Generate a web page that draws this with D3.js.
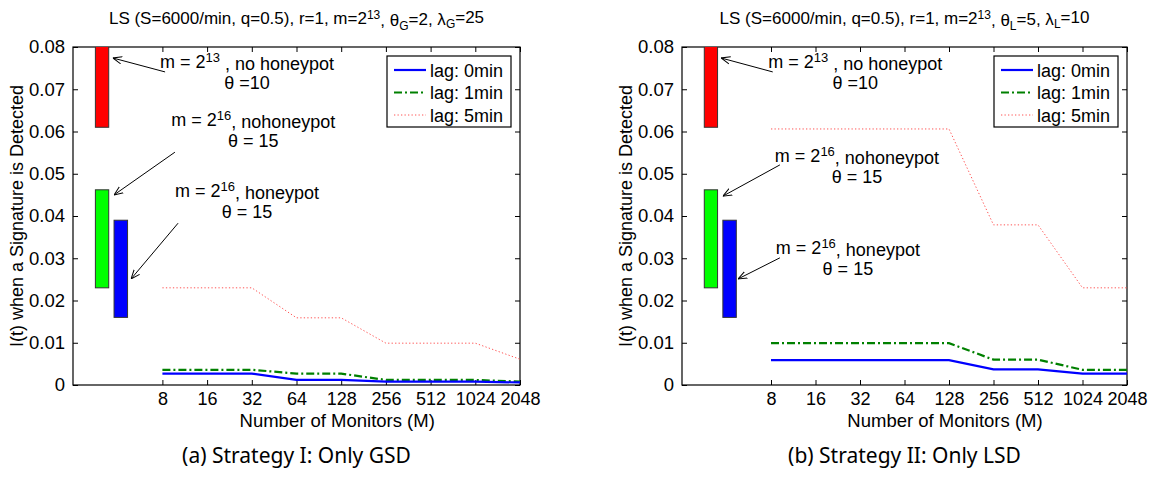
<!DOCTYPE html>
<html>
<head>
<meta charset="UTF-8">
<style>
body{margin:0;background:#fff;}
svg text{font-family:"Liberation Sans",Arial,sans-serif;fill:#000;}
svg text.caption{font-family:"Noto Sans",sans-serif;}
</style>
</head>
<body>
<svg width="1155" height="483"></svg>
<script src="https://d3js.org/d3.v7.min.js"></script>
<script>
// values
var monitors = [8, 16, 32, 64, 128, 256, 512, 1024, 2048];

var gsdLag0 = [0.0027, 0.0027, 0.0027, 0.0012, 0.0012, 0.0008, 0.0008, 0.0008, 0.0006];
var gsdLag1 = [0.0036, 0.0036, 0.0036, 0.0027, 0.0027, 0.0012, 0.0012, 0.0012, 0.0008];
var gsdLag5 = [0.0230, 0.0230, 0.0230, 0.0159, 0.0159, 0.0099, 0.0099, 0.0099, 0.0061];

var lsdLag0 = [0.0059, 0.0059, 0.0059, 0.0059, 0.0059, 0.0037, 0.0037, 0.0027, 0.0027];
var lsdLag1 = [0.0099, 0.0099, 0.0099, 0.0099, 0.0099, 0.0060, 0.0060, 0.0036, 0.0036];
var lsdLag5 = [0.0606, 0.0606, 0.0606, 0.0606, 0.0606, 0.0379, 0.0379, 0.0230, 0.0230];

var lagLabels = ["lag: 0min", "lag: 1min", "lag: 5min"];
var yTicks = [0, 0.01, 0.02, 0.03, 0.04, 0.05, 0.06, 0.07, 0.08];

// reference bars (no honeypot 2^13, no honeypot 2^16, honeypot 2^16)
var barLow  = [0.061, 0.023, 0.016];
var barHigh = [0.095, 0.0462, 0.039];
var barFrom = [2.83, 2.83, 3.78];
var barTo   = [3.48, 3.48, 4.66];
var barColors = ["#ff0000", "#00ff00", "#0000ff"];

var noteTop    = [["m = 2", "13", " , no honeypot"], ["m = 2", "16", ", nohoneypot"], ["m = 2", "16", ", honeypot"]];
var noteBottom = ["\u03b8 =10", "\u03b8 = 15", "\u03b8 = 15"];

// note anchors: [textX, textY, arrowFromX, arrowFromY, arrowToX, arrowToY]
var gsdNotes = [
  [29.7, 0.0750, 8.34, 0.0741, 3.71, 0.0774],
  [32.7, 0.0613, 9.71, 0.0551, 3.78, 0.0450],
  [29.7, 0.0445, 10.2, 0.0383, 4.92, 0.0251]
];
var lsdNotes = [
  [29.7, 0.0750, 8.22, 0.0741, 3.68, 0.0774],
  [30.5, 0.0528, 9.19, 0.0521, 3.78, 0.0447],
  [26.5, 0.0310, 9.19, 0.0301, 4.79, 0.0251]
];

var svg = d3.select("svg");

svg.append("defs").append("marker")
    .attr("id", "arrow")
    .attr("viewBox", "0 0 10 10")
    .attr("refX", 10).attr("refY", 5)
    .attr("markerWidth", 9).attr("markerHeight", 9)
    .attr("markerUnits", "userSpaceOnUse")
    .attr("orient", "auto")
  .append("path")
    .attr("d", "M0,1 L10,5 L0,9")
    .attr("fill", "none")
    .attr("stroke", "#000")
    .attr("stroke-width", 1.1);

function panel(id, left, right, series, notes, sub, theta, lambda, caption) {
  var top = 47, bottom = 385;
  var x = d3.scaleLog().base(2).domain([2, 2048]).range([left, right]);
  var y = d3.scaleLinear().domain([0, 0.08]).range([bottom, top]);
  var g = svg.append("g");

  svg.select("defs").append("clipPath").attr("id", "clip" + id)
    .append("rect").attr("x", left).attr("y", top).attr("width", right - left).attr("height", bottom - top);

  // title
  var t = g.append("text")
      .attr("x", (left + right) / 2).attr("y", 24)
      .attr("text-anchor", "middle")
      .style("font-size", "17px");
  t.append("tspan").text("LS (S=6000/min, q=0.5), r=1, m=2");
  t.append("tspan").attr("dy", "-0.45em").style("font-size", "12px").text("13");
  t.append("tspan").attr("dy", "0.45em").text(", \u03b8");
  t.append("tspan").attr("dy", "0.3em").style("font-size", "12px").text(sub);
  t.append("tspan").attr("dy", "-0.3em").text("=" + theta + ", \u03bb");
  t.append("tspan").attr("dy", "0.3em").style("font-size", "12px").text(sub);
  t.append("tspan").attr("dy", "-0.3em").text("=" + lambda);

  // axes
  g.append("g")
      .attr("transform", "translate(0," + bottom + ")")
      .call(d3.axisBottom(x).tickValues(monitors).tickFormat(d3.format("d")).tickSizeInner(-5).tickSizeOuter(0).tickPadding(7))
      .call(function(a) { a.select(".domain").remove(); a.selectAll("text").style("font-size", "18px"); });
  g.append("g")
      .attr("transform", "translate(0," + top + ")")
      .call(d3.axisTop(x).tickValues(monitors).tickFormat("").tickSizeInner(-5).tickSizeOuter(0))
      .call(function(a) { a.select(".domain").remove(); });
  g.append("g")
      .attr("transform", "translate(" + left + ",0)")
      .call(d3.axisLeft(y).tickValues(yTicks).tickFormat(function(d) { return d === 0 ? "0" : d3.format(".2f")(d); }).tickSizeInner(-5).tickSizeOuter(0).tickPadding(8))
      .call(function(a) { a.select(".domain").remove(); a.selectAll("text").style("font-size", "18.5px"); });
  g.append("g")
      .attr("transform", "translate(" + right + ",0)")
      .call(d3.axisRight(y).tickValues(yTicks).tickFormat("").tickSizeInner(-5).tickSizeOuter(0))
      .call(function(a) { a.select(".domain").remove(); });
  g.selectAll(".tick line").attr("stroke", "#000");
  g.append("rect")
      .attr("x", left).attr("y", top).attr("width", right - left).attr("height", bottom - top)
      .attr("fill", "none").attr("stroke", "#000").attr("stroke-width", 1.2);

  // axis labels
  g.append("text")
      .attr("transform", "translate(" + (left - 50) + "," + ((top + bottom) / 2) + ") rotate(-90)")
      .attr("text-anchor", "middle")
      .style("font-size", "18px")
      .text("I(t) when a Signature is Detected");
  g.append("text")
      .attr("x", (x(8) + right) / 2 - 4).attr("y", 427)
      .attr("text-anchor", "middle")
      .style("font-size", "18.5px")
      .text("Number of Monitors (M)");

  // bars
  g.append("g").attr("clip-path", "url(#clip" + id + ")")
    .selectAll("rect").data(barLow).enter().append("rect")
      .attr("x", function(d, i) { return x(barFrom[i]); })
      .attr("width", function(d, i) { return x(barTo[i]) - x(barFrom[i]); })
      .attr("y", function(d, i) { return y(barHigh[i]); })
      .attr("height", function(d, i) { return y(d) - y(barHigh[i]); })
      .attr("fill", function(d, i) { return barColors[i]; })
      .attr("stroke", "#333").attr("stroke-width", 1);

  // lines
  var styles = [
    {color: "#0000ff", width: 2.2, dash: null},
    {color: "#008000", width: 2.2, dash: "8,3,2,3"},
    {color: "#ff5555", width: 1, dash: "1.3,2.2"}
  ];
  var line = d3.line()
      .x(function(d, i) { return x(monitors[i]); })
      .y(function(d) { return y(d); });
  series.slice().reverse().forEach(function(s, k) {
    var st = styles[series.length - 1 - k];
    g.append("path")
        .attr("d", line(s))
        .attr("fill", "none")
        .attr("stroke", st.color)
        .attr("stroke-width", st.width)
        .attr("stroke-dasharray", st.dash);
  });

  // annotations
  notes.forEach(function(n, i) {
    var tx = g.append("text")
        .attr("x", x(n[0])).attr("y", y(n[1]))
        .attr("text-anchor", "middle")
        .style("font-size", "18px");
    tx.append("tspan").text(noteTop[i][0]);
    tx.append("tspan").attr("dy", "-0.45em").style("font-size", "13px").text(noteTop[i][1]);
    tx.append("tspan").attr("dy", "0.45em").text(noteTop[i][2]);
    g.append("text")
        .attr("x", x(n[0])).attr("y", y(n[1]) + 21)
        .attr("text-anchor", "middle")
        .style("font-size", "18px")
        .text(noteBottom[i]);
    g.append("line")
        .attr("x1", x(n[2])).attr("y1", y(n[3]))
        .attr("x2", x(n[4])).attr("y2", y(n[5]))
        .attr("stroke", "#000").attr("stroke-width", 1)
        .attr("marker-end", "url(#arrow)");
  });

  // legend
  var lx = right - 133, ly = 56;
  var lg = g.append("g").attr("transform", "translate(" + lx + "," + ly + ")");
  lg.append("rect").attr("width", 124).attr("height", 71)
      .attr("fill", "#fff").attr("stroke", "#000").attr("stroke-width", 1.2);
  lagLabels.forEach(function(lab, i) {
    var yy = 14 + i * 22.5;
    lg.append("line").attr("x1", 7).attr("x2", 39).attr("y1", yy).attr("y2", yy)
        .attr("stroke", styles[i].color).attr("stroke-width", styles[i].width)
        .attr("stroke-dasharray", styles[i].dash);
    lg.append("text").attr("x", 43).attr("y", yy + 6.5).style("font-size", "18px").text(lab);
  });

  // caption
  g.append("text")
      .attr("class", "caption")
      .attr("x", (left + right) / 2).attr("y", 463)
      .attr("text-anchor", "middle")
      .style("font-size", "21px")
      .text(caption);
}

panel("a", 73, 520, [gsdLag0, gsdLag1, gsdLag5], gsdNotes, "G", 2, 25, "(a) Strategy I: Only GSD");
panel("b", 682, 1127, [lsdLag0, lsdLag1, lsdLag5], lsdNotes, "L", 5, 10, "(b) Strategy II: Only LSD");
</script>
</body>
</html>
